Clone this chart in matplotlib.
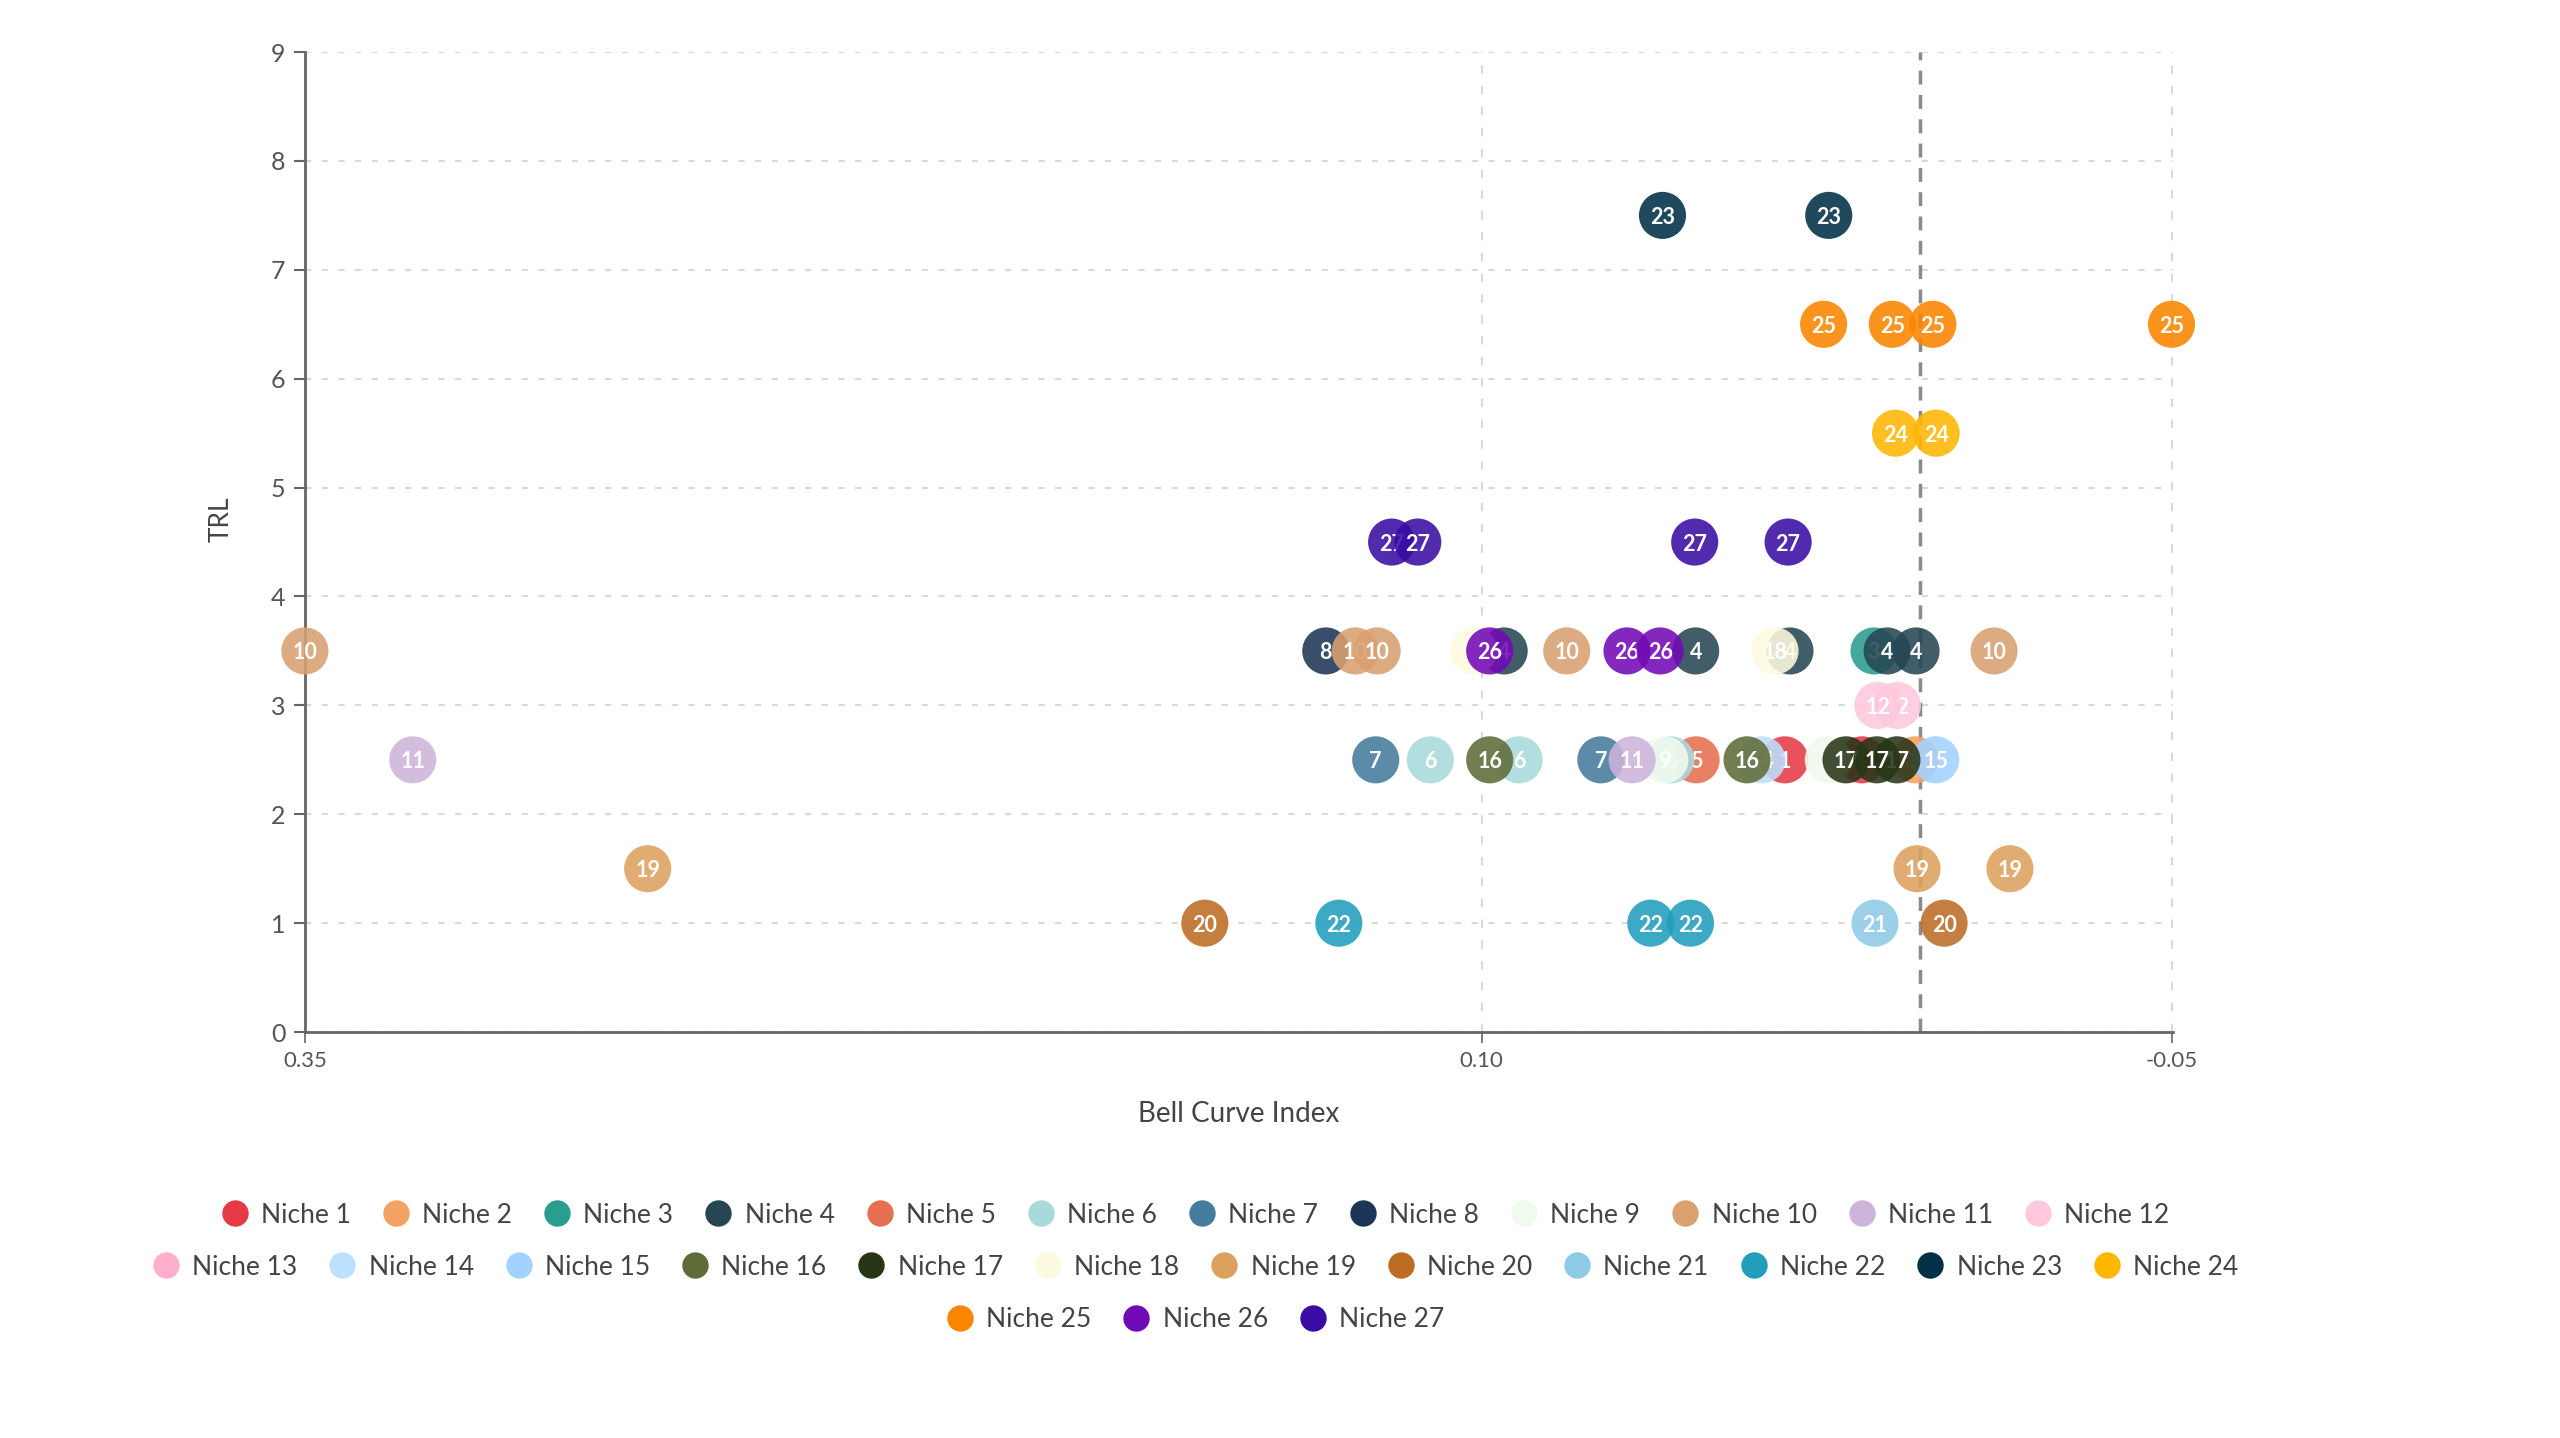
import matplotlib
matplotlib.use("Agg")
import matplotlib.pyplot as plt
from matplotlib.lines import Line2D

plt.rcParams['font.family'] = ['Lato', 'DejaVu Sans']

# niche colours, index 0 -> Niche 1
niche_names = ["Niche %d" % i for i in range(1, 28)]
niche_colors = ["#e63946", "#f4a261", "#2a9d8f", "#264653", "#e76f51", "#a8dadc",
                "#457b9d", "#1d3557", "#f1faee", "#d9a070", "#cdb4db", "#ffc8dd",
                "#ffafcc", "#bde0fe", "#a2d2ff", "#606c38", "#283618", "#fefae0",
                "#dda15e", "#bc6c25", "#8ecae6", "#219ebc", "#023047", "#ffb703",
                "#fb8500", "#7209b7", "#3a0ca3"]

# points: niche number, bell curve index, TRL (drawn in this order within a niche)
point_niche = [1, 1,
               2,
               3,
               4, 4, 4, 4, 4,
               5,
               6, 6, 6,
               7, 7,
               8,
               9, 9,
               10, 10, 10, 10, 10,
               11, 11,
               12, 12,
               14,
               15,
               16, 16,
               17, 17, 17,
               18, 18,
               19, 19, 19,
               20, 20,
               21,
               22, 22, 22,
               23, 23,
               24, 24,
               25, 25, 25, 25,
               26, 26, 26,
               27, 27, 27, 27]
point_x = [0.0331, 0.0166,
           0.0052,
           0.0140,
           0.0932, 0.0522, 0.0320, 0.0112, 0.0050,
           0.0521,
           0.1090, 0.0900, 0.0575,
           0.1207, 0.0725,
           0.1314,
           0.0588, 0.0238,
           0.3500, 0.1251, 0.1204, 0.0798, -0.0117,
           0.3269, 0.0658,
           0.0090, 0.0132,
           0.0380,
           0.0008,
           0.0963, 0.0412,
           0.0200, 0.0091, 0.0134,
           0.0997, 0.0352,
           0.2766, 0.0048, -0.0151,
           0.1573, -0.0010,
           0.0138,
           0.1286, 0.0618, 0.0533,
           0.0593, 0.0237,
           0.0094, 0.0007,
           0.0248, 0.0101, 0.0014, -0.0497,
           0.0963, 0.0669, 0.0598,
           0.1173, 0.1117, 0.0524, 0.0324]
point_trl = [2.5, 2.5,
             2.5,
             3.5,
             3.5, 3.5, 3.5, 3.5, 3.5,
             2.5,
             2.5, 2.5, 2.5,
             2.5, 2.5,
             3.5,
             2.5, 2.5,
             3.5, 3.5, 3.5, 3.5, 3.5,
             2.5, 2.5,
             3.0, 3.0,
             2.5,
             2.5,
             2.5, 2.5,
             2.5, 2.5, 2.5,
             3.5, 3.5,
             1.5, 1.5, 1.5,
             1.0, 1.0,
             1.0,
             1.0, 1.0, 1.0,
             7.5, 7.5,
             5.5, 5.5,
             6.5, 6.5, 6.5, 6.5,
             3.5, 3.5, 3.5,
             4.5, 4.5, 4.5, 4.5]

# axis ticks sit on rounded values: extent ends and a middle value
x_ticks = [0.35, 0.098, -0.0497]
x_tick_labels = ["0.35", "0.10", "-0.05"]
y_ticks = [0, 1, 2, 3, 4, 5, 6, 7, 8, 9]
ref_line_x = 0.0042

fig = plt.figure(figsize=(25.6, 14.38), dpi=100)
ax = fig.add_axes([0.1191, 0.2823, 0.7297, 0.6815])
ax.set_xlim(0.35, -0.05)
ax.set_ylim(0, 9)

for s in ["top", "right"]:
    ax.spines[s].set_visible(False)
for s in ["left", "bottom"]:
    ax.spines[s].set_color("#666666")
    ax.spines[s].set_linewidth(2)

ax.set_xticks(x_ticks)
ax.set_xticklabels(x_tick_labels)
ax.set_yticks(y_ticks)
ax.tick_params(axis="x", labelsize=16, colors="#666666", labelcolor="#555555", length=8, width=1.2, pad=6)
ax.tick_params(axis="y", labelsize=18, colors="#666666", labelcolor="#555555", length=8, width=1.5, pad=6)

ax.grid(True, axis="y", color="#d9d9d9", linestyle=(0, (3, 5)), linewidth=1.5)
ax.grid(True, axis="x", color="#d9d9d9", linestyle=(0, (4, 6)), linewidth=1.5)
ax.set_axisbelow(True)
ax.axvline(ref_line_x, color="#8a8a8a", linestyle=(0, (4, 3)), linewidth=2.5, zorder=2)

ax.set_xlabel("Bell Curve Index", fontsize=20, color="#444444", labelpad=21)
ax.set_ylabel("TRL", fontsize=19, color="#444444")
ax.yaxis.set_label_coords(-0.038, 0.523)

order = sorted(range(len(point_x)), key=lambda i: point_niche[i])
z = 3
for i in order:
    n = point_niche[i]
    ax.scatter([point_x[i]], [point_trl[i]], s=1150, color=niche_colors[n - 1],
               alpha=0.88, edgecolors="none", zorder=z, clip_on=False)
    ax.text(point_x[i], point_trl[i], str(n), color="white", fontsize=15.5,
            fontweight="bold", ha="center", va="center_baseline", zorder=z + 1)
    z += 2

handles = [Line2D([], [], marker="o", linestyle="", markersize=19,
                  markerfacecolor=c, markeredgewidth=0) for c in niche_colors]
rows = [(0, 12, 0.1550), (12, 24, 0.1188), (24, 27, 0.0825)]
for a, b, yy in rows:
    leg = fig.legend(handles[a:b], niche_names[a:b], ncol=b - a, loc="center",
                     bbox_to_anchor=(0.467, yy), frameon=False, fontsize=19,
                     handletextpad=0.5, columnspacing=1.2, handlelength=1.0,
                     borderpad=0, borderaxespad=0)
    for t in leg.get_texts():
        t.set_color("#444444")

fig.savefig("out.png", dpi=100, facecolor="white")
